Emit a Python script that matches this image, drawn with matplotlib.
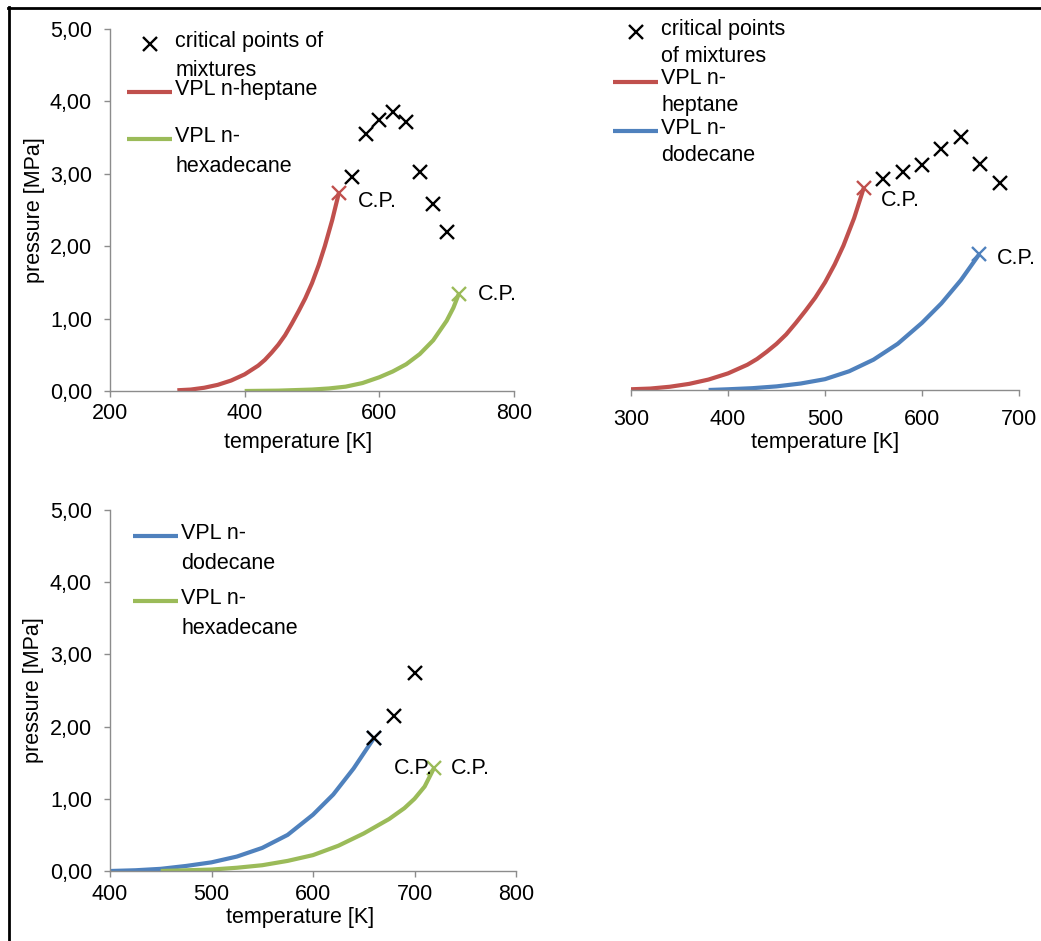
import matplotlib
matplotlib.use("Agg")
import matplotlib.pyplot as plt
import matplotlib.transforms as mtransforms
from matplotlib.lines import Line2D
from matplotlib.legend_handler import HandlerLine2D
from matplotlib.font_manager import FontProperties
from matplotlib.ticker import FuncFormatter

# ---- data ------------------------------------------------------------------
# panel 1: n-heptane + n-hexadecane
p1_heptane_T = [300, 320, 340, 360, 380, 400, 420, 430, 440, 450, 460, 470, 480, 490, 500, 510, 519, 530, 540]
p1_heptane_P = [0.01, 0.02, 0.045, 0.085, 0.145, 0.23, 0.35, 0.43, 0.53, 0.64, 0.77, 0.93, 1.10, 1.28, 1.49, 1.74, 2.00, 2.36, 2.74]
p1_hexadecane_T = [400, 450, 500, 525, 550, 575, 600, 620, 640, 660, 680, 700, 710, 718]
p1_hexadecane_P = [0.0, 0.005, 0.02, 0.035, 0.06, 0.11, 0.19, 0.27, 0.37, 0.51, 0.70, 0.97, 1.15, 1.34]
p1_mix_T = [560, 580, 600, 620, 640, 660, 680, 700]
p1_mix_P = [2.96, 3.55, 3.74, 3.86, 3.71, 3.02, 2.58, 2.20]

# panel 2: n-heptane + n-dodecane
p2_heptane_T = [300, 320, 340, 360, 380, 400, 420, 430, 440, 450, 460, 470, 480, 490, 500, 510, 519, 530, 540]
p2_heptane_P = [0.01, 0.02, 0.045, 0.085, 0.145, 0.23, 0.35, 0.43, 0.53, 0.64, 0.77, 0.93, 1.10, 1.28, 1.49, 1.74, 2.00, 2.38, 2.80]
p2_dodecane_T = [380, 400, 425, 450, 475, 500, 525, 550, 575, 600, 620, 640, 659]
p2_dodecane_P = [0.0, 0.01, 0.025, 0.05, 0.09, 0.15, 0.26, 0.42, 0.64, 0.93, 1.20, 1.52, 1.88]
p2_mix_T = [560, 580, 600, 620, 640, 660, 680]
p2_mix_P = [2.92, 3.02, 3.12, 3.34, 3.50, 3.13, 2.87]

# panel 3: n-dodecane + n-hexadecane
p3_dodecane_T = [400, 425, 450, 475, 500, 525, 550, 575, 600, 620, 640, 660]
p3_dodecane_P = [0.0, 0.01, 0.03, 0.07, 0.12, 0.20, 0.32, 0.50, 0.78, 1.06, 1.42, 1.84]
p3_hexadecane_T = [450, 500, 525, 550, 575, 600, 625, 650, 675, 690, 700, 710, 719]
p3_hexadecane_P = [0.0, 0.02, 0.045, 0.08, 0.14, 0.22, 0.35, 0.52, 0.72, 0.87, 1.00, 1.17, 1.42]
p3_mix_T = [660, 680, 700]
p3_mix_P = [1.84, 2.15, 2.74]

RED = "#C0504D"
GREEN = "#9BBB59"
BLUE = "#4F81BD"
GRAY = "#8C8C8C"
FONT = ["Liberation Sans", "DejaVu Sans"]
FS = 15.5

plt.rcParams["font.family"] = FONT
plt.rcParams["font.size"] = FS

fig = plt.figure(figsize=(10.41, 9.41), dpi=100)

# text metrics, to place the two-line legend labels like the reference
renderer = fig.canvas.get_renderer()
_, lp_h, lp_d = renderer.get_text_width_height_descent(
    "lp", FontProperties(family=FONT, size=FS), ismath=False)
fs_px = FS * fig.dpi / 72


class FirstLineHandler(HandlerLine2D):
    """Put the legend handle next to the first line of a two-line label."""

    def __init__(self, lift, **kw):
        super().__init__(**kw)
        self.lift = lift

    def create_artists(self, legend, orig_handle, xdescent, ydescent,
                       width, height, fontsize, trans):
        shift = mtransforms.Affine2D().translate(0, self.lift)
        return super().create_artists(legend, orig_handle, xdescent, ydescent,
                                      width, height, fontsize, shift + trans)


comma = FuncFormatter(lambda v, p: f"{v:.2f}".replace(".", ","))


def style_axes(ax, xlim, xticks, xpad, show_y=True):
    ax.set_xlim(*xlim)
    ax.set_ylim(0, 5)
    ax.set_xticks(xticks)
    ax.set_yticks([0, 1, 2, 3, 4, 5])
    ax.yaxis.set_major_formatter(comma)
    for s in ["top", "right"]:
        ax.spines[s].set_visible(False)
    for s in ["left", "bottom"]:
        ax.spines[s].set_color(GRAY)
        ax.spines[s].set_linewidth(1.0)
    ax.tick_params(axis="x", length=4.5, width=1, color=GRAY, pad=xpad,
                   labelsize=FS)
    ax.tick_params(axis="y", length=4.5, width=1, color=GRAY, pad=8.5,
                   labelsize=FS)
    if not show_y:
        ax.spines["left"].set_visible(False)
        ax.tick_params(axis="y", left=False, labelleft=False)
    ax.patch.set_alpha(0)


def cp_label(ax, x, y, dx, dy):
    ax.annotate("C.P.", (x, y), xytext=(dx, dy), textcoords="offset pixels",
                ha="left", va="center", fontsize=FS)


def add_legend(ax, x_px, y_px, line_pitch, entry_pitch):
    linesp = line_pitch / (lp_h - lp_d)
    spacing = (entry_pitch - line_pitch - lp_h) / fs_px
    lift = 0.5 * line_pitch * 72 / fig.dpi
    leg = ax.legend(loc="upper left",
                    bbox_to_anchor=(x_px / 1041, 1 - y_px / 941),
                    bbox_transform=fig.transFigure, frameon=False,
                    borderpad=0, borderaxespad=0, handlelength=2.1,
                    handletextpad=0.15, labelspacing=spacing, fontsize=FS,
                    handler_map={Line2D: FirstLineHandler(lift)})
    for t in leg.get_texts():
        t.set_linespacing(linesp)
    return leg


mk = dict(marker="x", markersize=10, markeredgewidth=1.7, linestyle="none",
          clip_on=False)
ln = dict(lw=3, solid_joinstyle="round", solid_capstyle="butt")

# ---- panel 1 ---------------------------------------------------------------
ax1 = fig.add_axes([110 / 1041, 1 - 391 / 941, 404 / 1041, 362 / 941])
ax1.plot(p1_mix_T, p1_mix_P, color="black", label="critical points of\nmixtures", **mk)
ax1.plot(p1_heptane_T, p1_heptane_P, color=RED, label="VPL n-heptane\n", **ln)
ax1.plot(p1_hexadecane_T, p1_hexadecane_P, color=GREEN, label="VPL n-\nhexadecane", **ln)
ax1.plot(p1_heptane_T[-1], p1_heptane_P[-1], color=RED, **mk)
ax1.plot(p1_hexadecane_T[-1], p1_hexadecane_P[-1], color=GREEN, **mk)
cp_label(ax1, p1_heptane_T[-1], p1_heptane_P[-1], 19, -9)
cp_label(ax1, p1_hexadecane_T[-1], p1_hexadecane_P[-1], 19, -1)
style_axes(ax1, (200, 800), [200, 400, 600, 800], 4.0)
ax1.set_xlabel("temperature [K]", fontsize=FS)
ax1.set_ylabel("pressure [MPa]", fontsize=FS)
ax1.xaxis.set_label_coords(0.465, -0.114)
ax1.yaxis.set_label_coords(-0.162, 0.5)
add_legend(ax1, 127, 31, 24.5, 42.5)

# ---- panel 2 ---------------------------------------------------------------
ax2 = fig.add_axes([631 / 1041, 1 - 390 / 941, 388 / 1041, 361 / 941])
ax2.plot(p2_mix_T, p2_mix_P, color="black", label="critical points\nof mixtures", **mk)
ax2.plot(p2_heptane_T, p2_heptane_P, color=RED, label="VPL n-\nheptane", **ln)
ax2.plot(p2_dodecane_T, p2_dodecane_P, color=BLUE, label="VPL n-\ndodecane", **ln)
ax2.plot(p2_heptane_T[-1], p2_heptane_P[-1], color=RED, **mk)
ax2.plot(p2_dodecane_T[-1], p2_dodecane_P[-1], color=BLUE, **mk)
cp_label(ax2, p2_heptane_T[-1], p2_heptane_P[-1], 17, -13)
cp_label(ax2, p2_dodecane_T[-1], p2_dodecane_P[-1], 18, -4)
style_axes(ax2, (300, 700), [300, 400, 500, 600, 700], 9.0, show_y=False)
ax2.set_xlabel("temperature [K]", fontsize=FS)
ax2.xaxis.set_label_coords(0.5, -0.117)
add_legend(ax2, 613, 19, 22, 44.5)

# ---- panel 3 ---------------------------------------------------------------
ax3 = fig.add_axes([110 / 1041, 1 - 871 / 941, 406 / 1041, 361 / 941])
ax3.plot(p3_dodecane_T, p3_dodecane_P, color=BLUE, label="VPL n-\ndodecane", **ln)
ax3.plot(p3_hexadecane_T, p3_hexadecane_P, color=GREEN, label="VPL n-\nhexadecane", **ln)
ax3.plot(p3_dodecane_T[-1], p3_dodecane_P[-1], color=BLUE, **mk)
ax3.plot(p3_hexadecane_T[-1], p3_hexadecane_P[-1], color=GREEN, **mk)
ax3.plot(p3_mix_T, p3_mix_P, color="black", **mk)
cp_label(ax3, p3_dodecane_T[-1], p3_dodecane_P[-1], 20, -30)
cp_label(ax3, p3_hexadecane_T[-1], p3_hexadecane_P[-1], 17, 0)
style_axes(ax3, (400, 800), [400, 500, 600, 700, 800], 5.0)
ax3.set_xlabel("temperature [K]", fontsize=FS)
ax3.set_ylabel("pressure [MPa]", fontsize=FS)
ax3.xaxis.set_label_coords(0.468, -0.1)
ax3.yaxis.set_label_coords(-0.162, 0.5)
add_legend(ax3, 133, 523, 25, 60)

# frame lines at the top and left edge of the picture
fig.add_artist(Line2D([7.5 / 1041, 1], [1 - 8 / 941, 1 - 8 / 941],
                      transform=fig.transFigure, color="black", lw=2))
fig.add_artist(Line2D([8.5 / 1041, 8.5 / 1041], [0, 1 - 7 / 941],
                      transform=fig.transFigure, color="black", lw=2))

fig.savefig("out.png", dpi=100)
